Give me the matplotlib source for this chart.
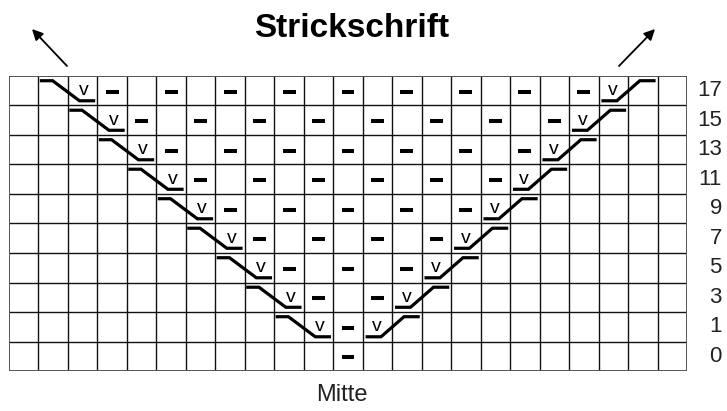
import matplotlib.pyplot as plt

# Strickschrift: knitting chart, rows listed top to bottom
row_labels = ["17", "15", "13", "11", "9", "7", "5", "3", "1", "0"]
n_cols = 23

# column of the left / right "v" stitch in each row (None = no crossing)
left_v = [2, 3, 4, 5, 6, 7, 8, 9, 10, None]
right_v = [20, 19, 18, 17, 16, 15, 14, 13, 12, None]

# columns holding a purl dash in each row
dash_cols = [
    [3, 5, 7, 9, 11, 13, 15, 17, 19],
    [4, 6, 8, 10, 12, 14, 16, 18],
    [5, 7, 9, 11, 13, 15, 17],
    [6, 8, 10, 12, 14, 16],
    [7, 9, 11, 13, 15],
    [8, 10, 12, 14],
    [9, 11, 13],
    [10, 12],
    [11],
    [11],
]

plt.rcParams['font.family'] = ['Liberation Sans', 'DejaVu Sans']

fig = plt.figure(figsize=(7.27, 4.11), dpi=100)
ax = fig.add_axes([9/727, 40/411, 678/727, 295/411])
n_rows = len(row_labels)
ax.set_xlim(0, n_cols)
ax.set_ylim(0, n_rows)
ax.axis('off')

# grid
for c in range(1, n_cols):
    ax.plot([c, c], [0, n_rows], color='#111111', lw=1.0, zorder=1)
for r in range(1, n_rows):
    ax.plot([0, n_cols], [r, r], color='#111111', lw=1.0, zorder=1)
ax.plot([0, n_cols, n_cols, 0, 0], [0, 0, n_rows, n_rows, 0],
        color='#555555', lw=1.4, zorder=1)

lw = 2.3
for r, lab in enumerate(row_labels):
    top = n_rows - r
    bot = top - 1
    ax.text(n_cols + 1.18, bot + 0.5, lab, fontsize=16, color='#222222',
            ha='right', va='center')
    for c in dash_cols[r]:
        ax.plot([c + 0.28, c + 0.72], [bot + 0.47, bot + 0.47], color='black',
                lw=lw + 0.6, solid_capstyle='butt', zorder=3)
    c = left_v[r]
    if c is not None:
        ax.plot([c - 0.9, c - 0.52, c + 0.39, c + 0.87],
                [top - 0.16, top - 0.16, bot + 0.16, bot + 0.16],
                color='black', lw=lw, solid_joinstyle='miter', zorder=3)
        ax.text(c + 0.55, top - 0.5, "v", fontsize=14, ha='center', va='center')
    c = right_v[r]
    if c is not None:
        ax.plot([c + 0.15, c + 0.62, c + 1.4, c + 1.88],
                [bot + 0.16, bot + 0.16, top - 0.16, top - 0.16],
                color='black', lw=lw, solid_joinstyle='miter', zorder=3)
        ax.text(c + 0.48, top - 0.5, "v", fontsize=14, ha='center', va='center')

fig.text(352/727, 1 - 37/411, "Strickschrift", fontsize=24, fontweight='bold',
         ha='center', va='baseline')
fig.text(342/727, 1 - 401/411, "Mitte", fontsize=17, color='#222222',
         ha='center', va='baseline')

arrow = dict(arrowstyle='-|>', color='black', lw=1.3, mutation_scale=16,
             shrinkA=0, shrinkB=0)
ax.annotate("", xy=(32/727, 1 - 29/411), xytext=(67/727, 1 - 66/411),
            xycoords='figure fraction', textcoords='figure fraction',
            arrowprops=arrow)
ax.annotate("", xy=(655/727, 1 - 29/411), xytext=(619/727, 1 - 66/411),
            xycoords='figure fraction', textcoords='figure fraction',
            arrowprops=arrow)

fig.savefig('out.png', dpi=100)
